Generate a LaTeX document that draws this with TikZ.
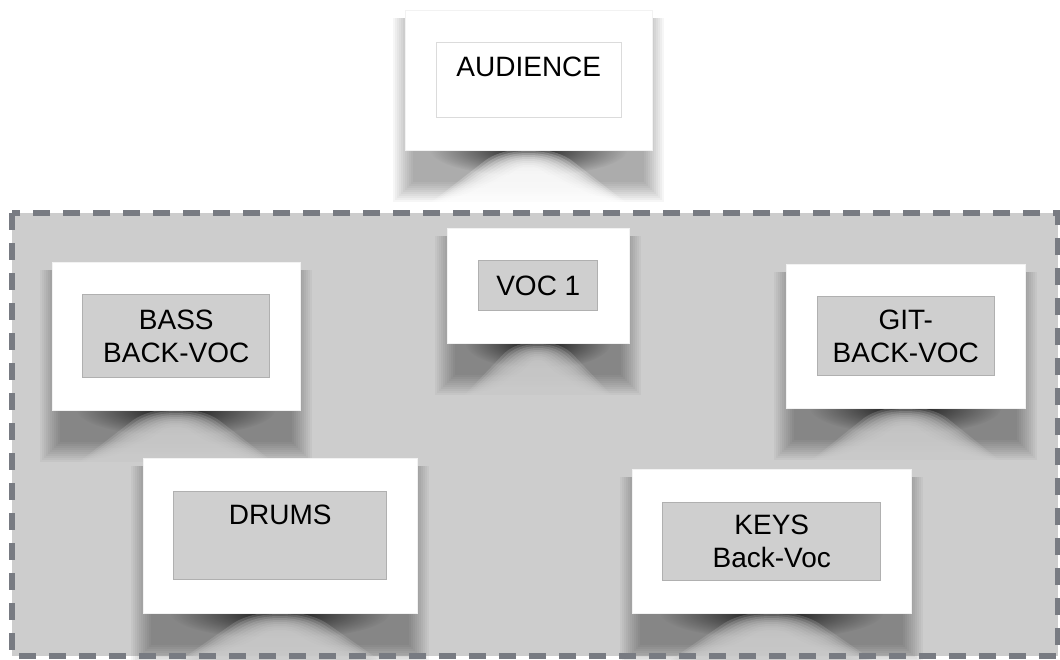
\documentclass[tikz,border=0pt]{standalone}
\usepackage{fontspec}
\setmainfont{Liberation Sans}
\usetikzlibrary{fadings}

\definecolor{stagegray}{HTML}{CDCDCD}
\definecolor{dashgray}{HTML}{787B82}
\definecolor{boxgray}{HTML}{CFCFCF}
\definecolor{boxline}{HTML}{B0B0B0}

\tikzfading[name=bandfade, inner color=transparent!0, outer color=transparent!100]

% white card with a curled shadow: name, left, top, right, bottom, background
\newcommand{\shadowcard}[6]{%
  \pgfmathsetmacro{\cw}{#4-#2}
  \pgfmathsetmacro{\ch}{#5-#3}
  \pgfmathsetmacro{\cx}{(#2+#4)/2}
  \foreach \s in {0,2,...,20}
    \fill[black, opacity=0.036] (#2-12+\s,#3+8) rectangle (#4+12-\s,#5+52-\s);
  \fill[black, opacity=0.85, path fading=bandfade] (\cx,#5) ellipse [x radius={0.4*\cw}, y radius=26];
  \foreach \s in {-8,-6,...,10}
    \fill[#6, opacity=0.22] (#2+0.12*\cw+\s,#5+56) -- (\cx-0.14*\cw+\s,#5+18+\s)
      .. controls (\cx-0.08*\cw+\s,#5+8+\s) and (\cx-0.04*\cw,#5+7+\s) .. (\cx,#5+7+\s)
      .. controls (\cx+0.04*\cw,#5+7+\s) and (\cx+0.08*\cw-\s,#5+8+\s) .. (\cx+0.14*\cw-\s,#5+18+\s)
      -- (#4-0.12*\cw-\s,#5+56) -- cycle;
  \node[card, minimum width=\cw, minimum height=\ch] (#1) at (#2,#3) {};
}

\begin{document}
\begin{tikzpicture}[x=1pt, y=-1pt,
  card/.style={fill=white, draw=black!5, line width=0.6pt, inner sep=0pt, anchor=north west},
  member/.style={fill=boxgray, draw=boxline, line width=1.2pt, inner sep=0pt, align=center,
    font=\fontsize{28}{33}\selectfont}]

\useasboundingbox (0,0) rectangle (1060,659);

% stage
\fill[stagegray] (12,213) rectangle (1058,656);

\shadowcard{audcard}{405}{10}{652}{150}{white}
\shadowcard{voccard}{447}{228}{629}{343}{stagegray}
\shadowcard{basscard}{52}{262}{300}{410}{stagegray}
\shadowcard{gitcard}{786}{264}{1025}{408}{stagegray}
\shadowcard{drumcard}{143}{458}{417}{613}{stagegray}
\shadowcard{keycard}{632}{469}{911}{613}{stagegray}

\node[member, fill=white, draw=black!14, minimum width=185, minimum height=75] (aud) at (audcard) {AUDIENCE\\[-15pt] \strut};
\node[member, minimum width=119, minimum height=50] (voc) at (voccard) {VOC 1};
\node[member, minimum width=187, minimum height=83] (bass) at (basscard) {BASS\\BACK-VOC};
\node[member, minimum width=177, minimum height=79] (git) at (gitcard) {GIT-\\BACK-VOC};
\node[member, minimum width=213, minimum height=88] (drums) at (drumcard) {DRUMS\\ \strut};
\node[member, minimum width=218, minimum height=78] (keys) at (keycard) {KEYS\\Back-Voc};

\draw[dashgray, line width=5.5pt, dash pattern=on 17pt off 13pt] (12,213) rectangle (1058,656);

\end{tikzpicture}
\end{document}
